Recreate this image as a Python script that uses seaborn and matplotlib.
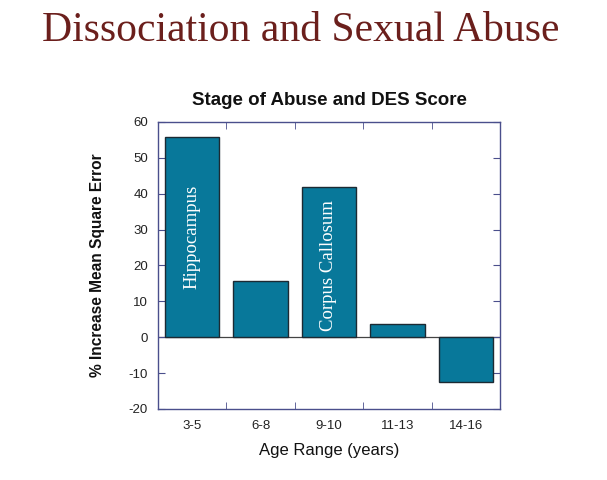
import matplotlib
matplotlib.use("Agg")
import matplotlib.pyplot as plt
import pandas as pd
import seaborn as sns
from matplotlib.ticker import FixedLocator

# valores
ages = ['3-5', '6-8', '9-10', '11-13', '14-16']
mse = [55.7, 15.6, 41.8, 3.6, -12.5]
bar_notes = {0: 'Hippocampus', 2: 'Corpus Callosum'}
note_y = {0: 28, 2: 20}

df = pd.DataFrame({'age': ages, 'mse': mse})

sns.set_style("white")
plt.rcParams['font.family'] = ['Liberation Sans', 'DejaVu Sans']
plt.rcParams['axes.unicode_minus'] = False
plt.rcParams['text.color'] = '#111111'
plt.rcParams['axes.labelcolor'] = '#111111'
plt.rcParams['xtick.labelcolor'] = '#222222'
plt.rcParams['ytick.labelcolor'] = '#222222'

fig = plt.figure(figsize=(6.07, 4.8), dpi=100)
ax = fig.add_axes([0.260, 0.148, 0.564, 0.598])

sns.barplot(x='age', y='mse', data=df, color='#08789a', saturation=1,
            width=0.8, edgecolor='#1c2a33', linewidth=1.0, ax=ax)

ax.axhline(0, color='#444444', lw=0.9, zorder=0.5)

frame = '#4a4f8c'
for s in ax.spines.values():
    s.set_color(frame)
    s.set_linewidth(1.0)

ax.set_ylim(-20, 60)
ax.set_xlim(-0.5, 4.5)
ax.set_yticks(range(-20, 61, 10))
ax.tick_params(axis='y', direction='in', length=5, color=frame, left=True,
               right=True, labelsize=9.5, pad=7)
ax.tick_params(axis='x', which='major', length=0, labelsize=9.5, pad=8)
ax.xaxis.set_minor_locator(FixedLocator([0.5, 1.5, 2.5, 3.5]))
ax.tick_params(axis='x', which='minor', direction='in', length=5,
               color=frame, bottom=True, top=True)

ax.set_xlabel('Age Range (years)', fontsize=12, labelpad=8)
ax.set_ylabel('% Increase Mean Square Error', fontsize=11.2,
              fontweight='bold', labelpad=17)
ax.set_title('Stage of Abuse and DES Score', fontsize=13.5,
             fontweight='bold', pad=12)

for i, txt in bar_notes.items():
    ax.text(i, note_y[i], txt, rotation=90,
            ha='center', va='center', color='white', fontsize=13.5,
            family=['Liberation Serif', 'DejaVu Serif'])

fig.text(0.495, 0.936, 'Dissociation and Sexual Abuse', ha='center',
         va='center', fontsize=30, color='#6b1f1c',
         family=['Liberation Serif', 'DejaVu Serif'])

fig.savefig('out.png', dpi=100)
